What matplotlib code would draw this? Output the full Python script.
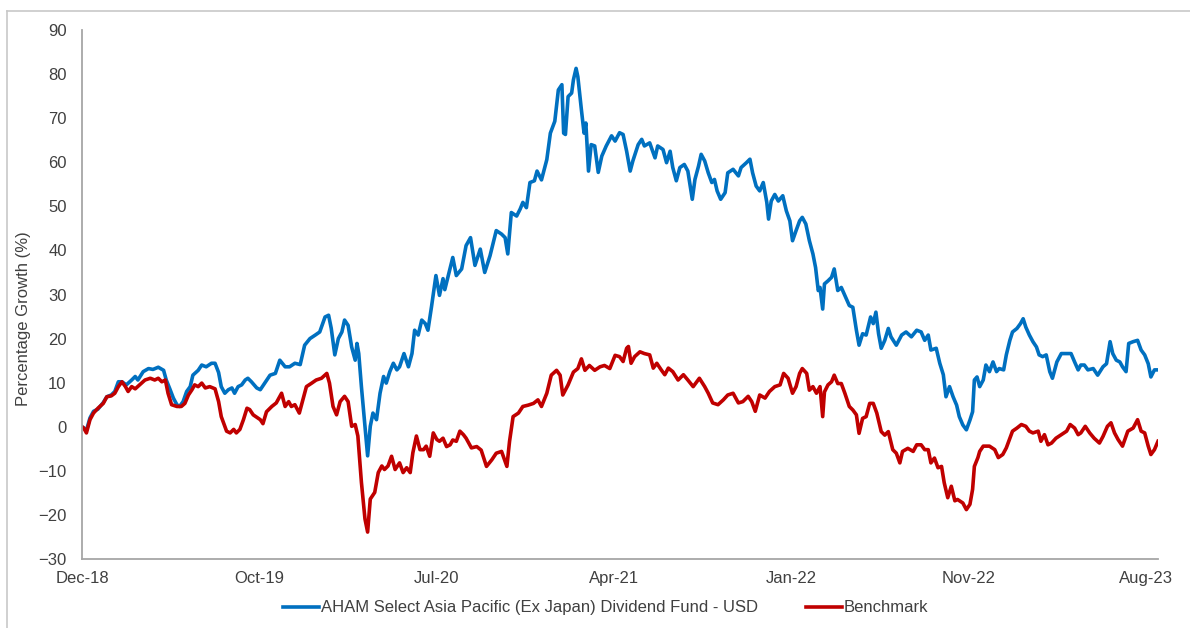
from matplotlib import pyplot as plt

plt.rcParams['font.family'] = ['Liberation Sans', 'DejaVu Sans']

# Trading-day index from 31 Dec 2018 and cumulative growth (%)
fund_day = [0, 2, 5, 9, 13, 18, 24, 28, 33, 37, 41, 45, 50, 56, 60, 63, 69, 75, 80, 86,
            92, 95, 99, 103, 107, 110, 114, 118, 122, 125, 131, 135, 140, 146, 150, 154, 157, 161, 165, 169,
            172, 176, 180, 184, 187, 191, 197, 201, 206, 212, 218, 223, 229, 234, 240, 246, 251, 257, 263, 268,
            274, 278, 281, 285, 289, 293, 296, 300, 304, 308, 310, 312, 315, 319, 322, 325, 328, 332, 336, 340,
            343, 347, 351, 355, 358, 363, 368, 372, 375, 379, 383, 387, 390, 394, 399, 403, 407, 409, 413, 418,
            422, 428, 433, 438, 443, 449, 454, 460, 467, 473, 477, 480, 484, 490, 494, 497, 501, 505, 510, 513,
            518, 524, 528, 533, 537, 541, 543, 545, 548, 552, 554, 557, 559, 563, 566, 568, 571, 574, 578, 582,
            586, 591, 597, 601, 606, 610, 614, 618, 621, 627, 631, 634, 640, 646, 649, 655, 659, 663, 666, 670,
            674, 679, 683, 688, 691, 695, 698, 702, 706, 710, 713, 716, 720, 725, 728, 734, 740, 743, 749, 753,
            756, 760, 764, 768, 772, 774, 777, 781, 785, 790, 794, 798, 801, 805, 809, 812, 816, 820, 824, 827,
            830, 832, 835, 837, 841, 845, 848, 852, 856, 860, 865, 869, 873, 876, 880, 884, 889, 892, 895, 898,
            901, 905, 909, 912, 918, 924, 929, 935, 941, 946, 950, 954, 957, 963, 967, 971, 974, 978, 982, 986,
            989, 993, 997, 1001, 1004, 1006, 1009, 1012, 1016, 1019, 1023, 1027, 1031, 1034, 1039, 1042, 1046, 1049, 1054, 1058,
            1061, 1064, 1068, 1072, 1076, 1079, 1083, 1087, 1091, 1094, 1099, 1104, 1110, 1115, 1119, 1123, 1126, 1130, 1134, 1140,
            1145, 1151, 1155, 1159, 1162, 1166, 1170, 1173, 1177, 1180, 1185, 1190, 1194, 1198, 1202, 1205, 1209, 1213]
fund_pct = [0, -0.3, -0.8, 2.0, 3.5, 4.0, 5.5, 6.8, 7.2, 8.0, 10.2, 10.2, 9.5, 10.6, 11.4, 10.6, 12.5, 13.2, 13.0, 13.5,
            12.8, 10.6, 8.6, 6.5, 5.0, 4.6, 5.7, 8.0, 9.1, 11.7, 12.8, 14.0, 13.6, 14.4, 14.4, 12.3, 9.1, 7.6, 8.4, 8.8,
            7.6, 9.1, 9.5, 10.6, 11.0, 10.2, 8.8, 8.4, 9.9, 11.7, 12.1, 15.1, 13.6, 13.6, 14.4, 14.1, 18.5, 20.0, 20.8, 21.5,
            24.9, 25.3, 22.3, 16.3, 20.0, 21.5, 24.2, 23.0, 18.1, 15.1, 18.9, 16.6, 9.1, 0.1, -6.6, 0.1, 3.1, 1.6, 7.6, 11.4,
            9.9, 12.5, 14.4, 12.9, 13.6, 16.6, 13.6, 16.6, 21.9, 20.8, 24.2, 23.4, 21.9, 27.2, 34.3, 29.8, 33.6, 31.1, 34.3, 38.4,
            34.3, 35.8, 41.1, 42.9, 36.6, 40.3, 35.0, 38.8, 44.5, 43.7, 42.9, 39.2, 48.6, 47.8, 49.4, 50.9, 49.7, 55.4, 55.8, 58.0,
            56.0, 60.6, 66.6, 69.3, 76.4, 77.6, 66.6, 66.3, 74.9, 75.7, 78.7, 81.3, 79.4, 71.9, 66.6, 68.9, 58.0, 64.0, 63.7, 57.7,
            61.4, 63.7, 66.0, 64.8, 66.7, 66.3, 62.5, 58.0, 60.3, 64.0, 65.2, 63.7, 64.4, 61.0, 63.7, 62.9, 59.9, 62.5, 58.8, 55.8,
            58.8, 59.5, 58.0, 51.6, 56.1, 59.1, 61.8, 60.3, 57.6, 55.4, 56.1, 53.5, 51.6, 53.1, 57.6, 58.4, 56.9, 58.8, 59.9, 60.7,
            57.6, 54.6, 53.5, 55.4, 50.9, 47.1, 51.2, 52.7, 51.2, 52.4, 49.0, 46.7, 42.2, 44.5, 46.7, 47.5, 46.0, 42.2, 39.2, 36.1,
            30.9, 31.6, 26.7, 32.4, 33.1, 33.9, 35.8, 30.9, 31.6, 29.8, 27.5, 27.1, 21.9, 18.5, 21.1, 20.8, 24.9, 23.4, 26.0, 21.1,
            17.8, 19.6, 22.3, 20.4, 18.5, 20.8, 21.5, 20.4, 21.9, 21.5, 19.6, 20.8, 17.4, 17.8, 14.4, 11.8, 6.8, 9.1, 6.8, 4.9,
            2.3, 0.4, -0.7, 1.5, 3.4, 10.6, 11.3, 9.1, 10.6, 14.0, 12.5, 14.7, 12.5, 13.2, 12.9, 16.3, 19.6, 21.5, 22.3, 23.4,
            24.5, 22.6, 20.8, 19.3, 18.1, 16.3, 15.9, 16.3, 12.5, 11.0, 14.7, 16.6, 16.6, 16.6, 14.7, 12.9, 14.0, 14.0, 12.9, 13.2,
            11.7, 13.6, 14.3, 19.3, 16.6, 15.1, 14.7, 13.6, 12.5, 18.9, 19.3, 19.6, 17.4, 16.3, 14.3, 11.3, 12.9, 12.9]

bench_day = [0, 2, 5, 9, 13, 18, 24, 28, 33, 37, 41, 45, 49, 52, 56, 60, 65, 71, 77, 82,
             86, 90, 94, 97, 101, 107, 112, 116, 120, 124, 127, 131, 135, 139, 144, 150, 154, 157, 163, 167,
             171, 174, 178, 182, 186, 189, 193, 201, 204, 208, 214, 219, 225, 229, 233, 236, 240, 245, 249, 253,
             259, 264, 270, 276, 279, 283, 287, 291, 296, 300, 304, 308, 311, 315, 319, 322, 325, 330, 334, 338,
             341, 345, 349, 353, 358, 362, 366, 370, 373, 377, 381, 385, 388, 392, 396, 400, 403, 407, 411, 415,
             418, 422, 426, 430, 433, 439, 445, 450, 456, 462, 467, 473, 479, 482, 486, 492, 497, 503, 509, 514,
             518, 524, 529, 535, 539, 542, 548, 554, 559, 563, 567, 572, 578, 584, 589, 595, 601, 606, 610, 614,
             616, 619, 623, 629, 634, 640, 644, 648, 653, 657, 661, 666, 672, 678, 683, 689, 696, 702, 706, 711,
             717, 723, 728, 734, 740, 745, 751, 755, 759, 764, 770, 775, 781, 787, 791, 796, 801, 805, 809, 812,
             817, 820, 824, 828, 832, 835, 837, 841, 845, 848, 852, 856, 860, 865, 869, 873, 876, 880, 884, 888,
             892, 896, 901, 905, 909, 914, 918, 922, 925, 931, 937, 941, 946, 950, 954, 957, 961, 965, 969, 972,
             976, 980, 984, 987, 993, 997, 1001, 1004, 1006, 1010, 1012, 1016, 1019, 1023, 1029, 1033, 1038, 1042, 1046, 1049,
             1054, 1059, 1064, 1068, 1072, 1078, 1081, 1085, 1089, 1093, 1098, 1104, 1110, 1114, 1119, 1123, 1126, 1131, 1136, 1141,
             1147, 1151, 1156, 1160, 1164, 1168, 1173, 1179, 1185, 1190, 1194, 1198, 1202, 1205, 1209, 1213]
bench_pct = [0, -0.3, -1.4, 1.6, 3.1, 4.2, 5.3, 6.8, 7.0, 7.6, 9.1, 10.2, 9.1, 8.0, 9.1, 8.6, 9.5, 10.6, 11.0, 10.6,
             11.0, 10.2, 10.6, 7.6, 5.0, 4.6, 4.6, 5.3, 7.2, 8.4, 9.5, 9.1, 9.9, 8.8, 9.1, 8.6, 5.7, 2.3, -1.0, -1.4,
             -0.6, -1.4, -0.6, 1.6, 4.2, 3.9, 2.7, 1.6, 0.7, 3.4, 4.6, 5.4, 7.6, 4.6, 5.7, 4.6, 5.0, 3.1, 6.1, 9.1,
             9.9, 10.6, 11.0, 12.1, 9.9, 4.6, 2.7, 5.7, 6.9, 5.7, 0.1, 0.5, -2.1, -12.6, -20.9, -23.9, -16.4, -14.9, -10.4, -8.9,
             -9.7, -8.9, -6.7, -9.7, -8.2, -10.4, -9.3, -10.4, -5.9, -2.1, -5.2, -5.2, -4.4, -6.7, -1.4, -2.9, -3.3, -2.6, -4.5, -4.1,
             -3.0, -3.3, -1.0, -1.8, -2.6, -4.8, -4.5, -5.3, -9.0, -7.5, -6.0, -5.6, -9.0, -3.3, 2.3, 3.1, 4.6, 4.9, 5.3, 6.1,
             4.6, 7.6, 11.7, 12.8, 11.7, 7.2, 9.5, 12.4, 13.2, 15.4, 12.8, 13.9, 12.8, 13.6, 13.9, 13.2, 16.2, 15.9, 14.8, 17.8,
             18.2, 14.4, 15.9, 17.0, 16.6, 16.3, 13.3, 14.4, 12.9, 11.8, 13.3, 12.5, 10.6, 11.8, 10.6, 9.1, 11.0, 9.1, 7.6, 5.4,
             5.0, 6.1, 7.2, 7.6, 5.4, 5.7, 6.9, 5.7, 3.5, 7.2, 6.5, 8.0, 9.1, 9.5, 12.1, 11.0, 7.6, 9.1, 12.1, 13.2,
             12.1, 8.3, 9.1, 7.6, 9.1, 2.3, 7.9, 9.5, 10.2, 11.7, 9.8, 9.8, 7.6, 4.6, 3.8, 2.7, -1.5, 1.9, 2.3, 5.3,
             5.3, 3.1, -1.1, -1.9, -1.1, -5.2, -6.0, -8.2, -5.6, -4.9, -5.6, -4.1, -4.1, -5.2, -5.2, -8.2, -7.1, -9.3, -9.0, -12.7,
             -16.1, -13.5, -16.8, -16.5, -17.3, -18.8, -17.6, -14.2, -9.0, -7.0, -5.6, -4.4, -4.4, -4.4, -5.2, -7.0, -6.3, -4.8, -2.6, -1.0,
             -0.3, 0.5, 0.1, -1.0, -1.4, -1.0, -3.3, -1.8, -4.1, -3.7, -2.6, -1.8, -1.0, 0.5, -0.3, -1.8, -1.4, 0.1, -1.4, -2.6,
             -3.7, -2.2, 0.1, 0.9, -1.4, -2.9, -4.4, -1.0, -0.3, 1.6, -1.0, -1.4, -4.4, -6.3, -5.2, -3.3]

label_days = [0, 200, 400, 600, 800, 1000, 1200]
date_labels = ['Dec-18', 'Oct-19', 'Jul-20', 'Apr-21', 'Jan-22', 'Nov-22', 'Aug-23']
y_ticks = list(range(-30, 91, 10))

text_col = '#404040'
axis_col = '#a6a6a6'

fig = plt.figure(figsize=(11.9, 6.28), dpi=100)
ax = fig.add_axes([0.0689, 0.1099, 0.9042, 0.8423])

ax.plot(fund_day, fund_pct, color='#0070C0', lw=2.6,
        label='AHAM Select Asia Pacific (Ex Japan) Dividend Fund - USD')
ax.plot(bench_day, bench_pct, color='#C00000', lw=2.6, label='Benchmark')

ax.set_xlim(0, 1213)
ax.set_ylim(-30, 90)
ax.set_yticks(y_ticks)
ax.set_xticks(label_days)
ax.set_xticklabels(date_labels)
ax.tick_params(length=0, labelsize=12, colors=text_col)
ax.tick_params(axis='y', pad=11)
ax.tick_params(axis='x', pad=9)
ax.set_ylabel('Percentage Growth (%)', fontsize=12, color=text_col)
ax.yaxis.set_label_coords(-0.0475, 0.454)

for side in ['top', 'right']:
    ax.spines[side].set_visible(False)
for side in ['left', 'bottom']:
    ax.spines[side].set_color(axis_col)
    ax.spines[side].set_linewidth(1.3)

ax.legend(loc='center', bbox_to_anchor=(0.509, 0.032), bbox_transform=fig.transFigure,
          ncol=2, frameon=False, fontsize=12, handlelength=2.15, handletextpad=0.1,
          columnspacing=2.9, labelcolor=text_col)

# outer chart border (left and top edges visible)
fig.add_artist(plt.Line2D([0.0059, 0.0059], [0, 0.9825], color='#c8c8c8', lw=1.2))
fig.add_artist(plt.Line2D([0.0059, 1], [0.9825, 0.9825], color='#c8c8c8', lw=1.2))

fig.savefig('out.png', dpi=100)
